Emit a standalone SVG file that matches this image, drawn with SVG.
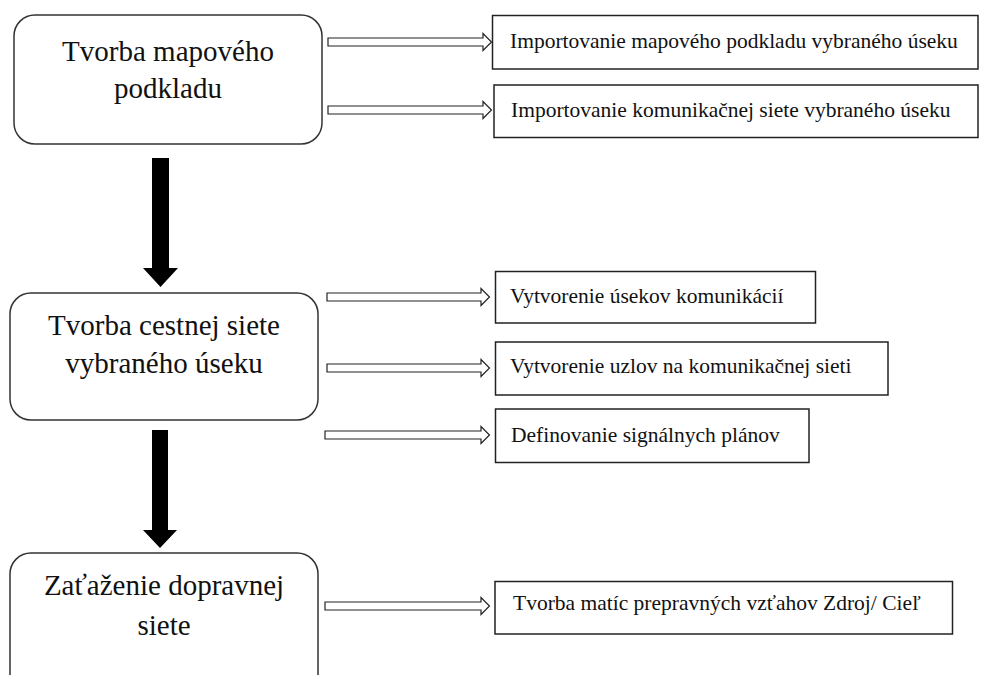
<svg xmlns="http://www.w3.org/2000/svg" width="981" height="675" viewBox="0 0 981 675">
<style>
.main{fill:#fff;stroke:#333;stroke-width:1.5}
.sub{fill:#fff;stroke:#222;stroke-width:1.5}
.mt{font-family:'Liberation Serif','Times New Roman',Times,'DejaVu Serif',serif;font-size:29px;fill:#111;text-anchor:middle}
.st{font-family:'Liberation Serif','Times New Roman',Times,'DejaVu Serif',serif;font-size:21.5px;fill:#111}
.ha{fill:#fff;stroke:#222;stroke-width:1.2}
.ba{fill:#000;stroke:none}
</style>
<rect width="981" height="675" fill="#fff"/>
<g id="connectors">
  <polygon class="ba" points="152,158 169,158 169,268 178,268 160.5,287 143,268 152,268"/>
  <polygon class="ba" points="152,430 168,430 168,530 177,530 160,548 143,530 152,530"/>
  <polygon class="ha" points="328,38 483,38 483,33.5 491.5,42 483,50.5 483,46 328,46"/>
  <polygon class="ha" points="328,106 483,106 483,101.5 491.5,110 483,118.5 483,114 328,114"/>
  <polygon class="ha" points="327,293 481,293 481,288.5 489.5,297 481,305.5 481,301 327,301"/>
  <polygon class="ha" points="327,364 481,364 481,359.5 489.5,368 481,376.5 481,372 327,372"/>
  <polygon class="ha" points="325,431 481,431 481,426.5 489.5,435 481,443.5 481,439 325,439"/>
  <polygon class="ha" points="325,602 481,602 481,597.5 489.5,606 481,614.5 481,610 325,610"/>
</g>
<g id="n1">
  <rect class="main" x="14" y="15" width="308" height="129" rx="21" ry="21"/>
  <text class="mt" x="168" y="61">Tvorba mapového</text>
  <text class="mt" x="168" y="98">podkladu</text>
</g>
<g id="n2">
  <rect class="main" x="10" y="293" width="308" height="127" rx="21" ry="21"/>
  <text class="mt" x="164" y="335">Tvorba cestnej siete</text>
  <text class="mt" x="164" y="373">vybraného úseku</text>
</g>
<g id="n3">
  <rect class="main" x="10" y="553" width="308" height="150" rx="21" ry="21"/>
  <text class="mt" x="164" y="595">Zaťaženie dopravnej</text>
  <text class="mt" x="164" y="635">siete</text>
</g>
<g id="s1">
  <rect class="sub" x="492.5" y="15.5" width="485.5" height="53.5"/>
  <text class="st" x="510" y="48">Importovanie mapového podkladu vybraného úseku</text>
</g>
<g id="s2">
  <rect class="sub" x="494" y="85" width="484" height="52.5"/>
  <text class="st" x="511" y="117">Importovanie komunikačnej siete vybraného úseku</text>
</g>
<g id="s3">
  <rect class="sub" x="495.5" y="271.5" width="320" height="51.5"/>
  <text class="st" x="510" y="303">Vytvorenie úsekov komunikácií</text>
</g>
<g id="s4">
  <rect class="sub" x="495.5" y="342" width="392.5" height="53"/>
  <text class="st" x="510" y="373">Vytvorenie uzlov na komunikačnej sieti</text>
</g>
<g id="s5">
  <rect class="sub" x="495.5" y="409" width="313.5" height="53.5"/>
  <text class="st" x="511" y="441.5">Definovanie signálnych plánov</text>
</g>
<g id="s6">
  <rect class="sub" x="495" y="581.5" width="457.5" height="52.5"/>
  <text class="st" x="513" y="610">Tvorba matíc prepravných vzťahov Zdroj/ Cieľ</text>
</g>
</svg>
